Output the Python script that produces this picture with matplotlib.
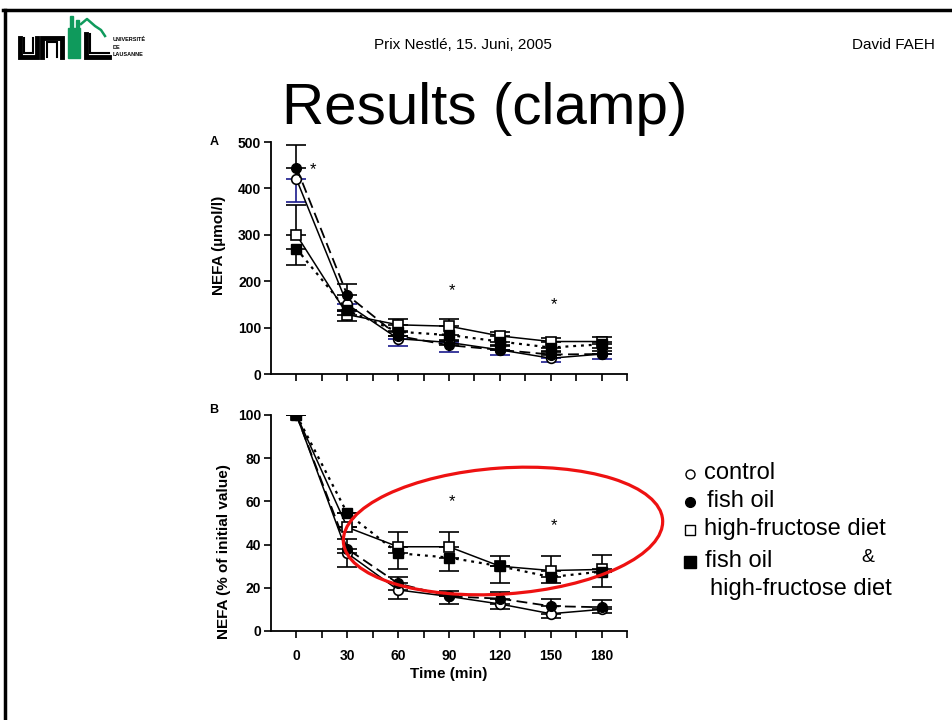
import matplotlib
matplotlib.use("Agg")
import matplotlib.pyplot as plt
from matplotlib.lines import Line2D
from matplotlib.patches import Ellipse, Rectangle

plt.rcParams["font.family"] = ["Liberation Sans", "DejaVu Sans"]

# Time points (min)
time = [0, 30, 60, 90, 120, 150, 180]

# Panel A: NEFA (umol/l)
a_control = [420, 150, 76, 68, 52, 34, 43]
a_control_err = [50, 15, 16, 20, 10, 8, 11]          # drawn downward
a_fishoil = [445, 170, 82, 62, 52, 42, 43]
a_fishoil_err = [48, 23, 10, 10, 8, 6, 6]            # drawn upward
a_hf = [300, 128, 106, 103, 82, 70, 70]
a_hf_err = [65, 8, 13, 16, 9, 8, 10]                 # drawn upward
a_fohf = [270, 137, 91, 84, 70, 57, 64]
a_fohf_err = [35, 22, 10, 10, 8, 8, 8]               # drawn downward

# Panel B: NEFA (% of initial value)
b_control = [100, 36, 19, 16, 12.5, 8, 10]
b_control_err = [0, 6.5, 4, 3.7, 2.5, 2, 1.5]
b_fishoil = [100, 38, 22, 16, 15, 11.5, 11]
b_fishoil_err = [0, 4.5, 3, 2.5, 3, 3.5, 3.4]
b_hf = [100, 48, 39, 39, 30, 28, 28.5]
b_hf_err = [0, 0, 6.7, 7, 4.9, 6.5, 6.5]
b_fohf = [100, 54.5, 36, 34, 30, 25, 27.5]
b_fohf_err = [0, 0, 7.3, 6.2, 7.6, 3, 7]

# significance stars (time, value)
a_stars = [(10, 440), (92, 180), (152, 150)]
b_stars = [(92, 60), (152, 49)]

legend_labels = ["control", "fish oil", "high-fructose diet", "fish oil"]

fig = plt.figure(figsize=(9.52, 7.2), dpi=100)


def fx(px):
    return px / 952


def fy(py):
    return 1 - py / 720


# slide frame
fig.add_artist(Line2D([fx(3), 1], [fy(10), fy(10)], color="black", lw=2.5, transform=fig.transFigure))
fig.add_artist(Line2D([fx(5), fx(5)], [fy(10), 0], color="black", lw=2.5, transform=fig.transFigure))

# header texts
fig.text(fx(463), fy(45), "Prix Nestlé, 15. Juni, 2005", fontsize=11, ha="center", va="center")
fig.text(fx(893), fy(45), "David FAEH", fontsize=11, ha="center", va="center")
fig.text(fx(485), fy(124), "Results (clamp)", fontsize=42, ha="center", va="baseline")

# rough UNIL logo (axes spans pixels x 15..175, y 12..64; data y = 64 - px)
lg = fig.add_axes([fx(15), fy(64), fx(160), 52 / 720])
lg.set_xlim(0, 160)
lg.set_ylim(0, 52)
lg.axis("off")
green = "#0f9a5c"
lg.plot([5, 5, 22, 22], [26, 7, 7, 26], color="black", lw=3.5, solid_joinstyle="miter")
lg.plot([9, 9, 18, 18], [26, 11, 11, 26], color="black", lw=1.5, solid_joinstyle="miter")
lg.plot([27, 27, 47, 47], [7, 26, 26, 7], color="black", lw=3.5, solid_joinstyle="miter")
lg.plot([32, 32, 42, 42], [7, 22, 22, 7], color="black", lw=1.5, solid_joinstyle="miter")
lg.add_patch(Rectangle((53, 6), 12, 30, color=green))
lg.add_patch(Rectangle((55, 36), 3, 12, color=green))
lg.add_patch(Rectangle((61, 36), 3, 8, color=green))
lg.plot([71, 71, 94], [30, 7, 7], color="black", lw=3.5, solid_joinstyle="miter")
lg.plot([75, 75, 94], [30, 11, 11], color="black", lw=1.5, solid_joinstyle="miter")
lg.plot([66, 72, 80, 86, 90], [40, 45, 38, 34, 28], color=green, lw=1.8)
lg.text(98, 17, "UNIVERSITÉ\nDE\nLAUSANNE", fontsize=4, fontweight="bold", va="center", linespacing=1.7)

blue = "#1a1a8c"


def draw_panel(ax, control, control_err, fishoil, fishoil_err, hf, hf_err, fohf, fohf_err, ctrl_col):
    zero = [0] * len(time)
    ms = 7
    ax.errorbar(time, control, yerr=[control_err, zero], fmt="none", ecolor=ctrl_col, elinewidth=1.2, capsize=7, capthick=1.2, zorder=2)
    ax.errorbar(time, fishoil, yerr=[zero, fishoil_err], fmt="none", ecolor="black", elinewidth=1.2, capsize=7, capthick=1.2, zorder=2)
    ax.errorbar(time, hf, yerr=[zero, hf_err], fmt="none", ecolor="black", elinewidth=1.2, capsize=7, capthick=1.2, zorder=2)
    ax.errorbar(time, fohf, yerr=[fohf_err, zero], fmt="none", ecolor="black", elinewidth=1.2, capsize=7, capthick=1.2, zorder=2)
    ax.plot(time, control, color="black", lw=1.1, marker="o", ms=ms, mfc="white", mec="black", mew=1.2, zorder=3)
    ax.plot(time, fishoil, color="black", lw=1.3, dashes=[6, 3], marker="o", ms=ms, mfc="black", mec="black", zorder=3)
    ax.plot(time, hf, color="black", lw=1.1, marker="s", ms=ms, mfc="white", mec="black", mew=1.2, zorder=4)
    ax.plot(time, fohf, color="black", lw=1.6, dashes=[1.3, 2.2], marker="s", ms=ms, mfc="black", mec="black", zorder=4)

    ax.set_xlim(-15, 195)
    ax.set_xticks(time)
    ax.set_xticks(range(15, 200, 30), minor=True)
    for s in ["top", "right"]:
        ax.spines[s].set_visible(False)
    for s in ["left", "bottom"]:
        ax.spines[s].set_linewidth(1.3)
    ax.tick_params(which="both", direction="out", length=5, width=1.2)
    for lab in ax.get_yticklabels() + ax.get_xticklabels():
        lab.set_fontweight("bold")
        lab.set_fontsize(10)


# Panel A
axA = fig.add_axes([fx(271), fy(374), fx(627 - 271), (374 - 142) / 720])
draw_panel(axA, a_control, a_control_err, a_fishoil, a_fishoil_err, a_hf, a_hf_err, a_fohf, a_fohf_err, blue)
axA.set_ylim(0, 500)
axA.set_yticks([0, 100, 200, 300, 400, 500])
axA.set_yticklabels(["0", "100", "200", "300", "400", "500"], fontweight="bold", fontsize=10)
axA.tick_params(axis="x", labelbottom=False)
axA.tick_params(axis="y", pad=2)
axA.set_ylabel("NEFA (µmol/l)", fontsize=11, fontweight="bold")
axA.yaxis.set_label_coords(-0.125, 0.556)
for sx, sy in a_stars:
    axA.text(sx, sy, "*", fontsize=12, ha="center", va="center")
fig.text(fx(214), fy(142), "A", fontsize=9, fontweight="bold", ha="center", va="center")

# Panel B
axB = fig.add_axes([fx(271), fy(631), fx(627 - 271), (631 - 415) / 720])
draw_panel(axB, b_control, b_control_err, b_fishoil, b_fishoil_err, b_hf, b_hf_err, b_fohf, b_fohf_err, "black")
axB.set_ylim(0, 100)
axB.set_yticks([0, 20, 40, 60, 80, 100])
axB.set_yticklabels(["0", "20", "40", "60", "80", "100"], fontweight="bold", fontsize=10)
axB.set_xticklabels([str(t) for t in time], fontweight="bold", fontsize=10)
axB.tick_params(axis="x", pad=8)
axB.tick_params(axis="y", pad=2)
axB.set_xlabel("Time (min)", fontsize=11, fontweight="bold", labelpad=3)
axB.set_ylabel("NEFA (% of initial value)", fontsize=11, fontweight="bold")
axB.yaxis.set_label_coords(-0.112, 0.366)
for sx, sy in b_stars:
    axB.text(sx, sy, "*", fontsize=12, ha="center", va="center")
fig.text(fx(214), fy(410), "B", fontsize=9, fontweight="bold", ha="center", va="center")

# red highlight ellipse (inches)
fig.add_artist(Ellipse((5.03, 7.2 - 5.31), 3.2, 1.26, angle=4, fill=False, edgecolor="#ee1111", lw=2.3,
                       transform=fig.dpi_scale_trans))

# legend drawn by hand
leg_y = [474, 502, 530, 562]
leg_style = [("o", "white", 6.5), ("o", "black", 7), ("s", "white", 6.5), ("s", "black", 8)]
leg_tx = [704, 707, 704, 705]
for y, (m, fc, s), tx, lab in zip(leg_y, leg_style, leg_tx, legend_labels):
    fig.add_artist(Line2D([fx(690)], [fy(y)], marker=m, ms=s, mfc=fc, mec="black", mew=1,
                          linestyle="none", transform=fig.transFigure))
    fig.text(fx(tx), fy(y - 1), lab, fontsize=17, ha="left", va="center")
fig.text(fx(868), fy(557), "&", fontsize=14, ha="center", va="center")
fig.text(fx(710), fy(589), "high-fructose diet", fontsize=17, ha="left", va="center")

fig.savefig("out.png", dpi=100)
